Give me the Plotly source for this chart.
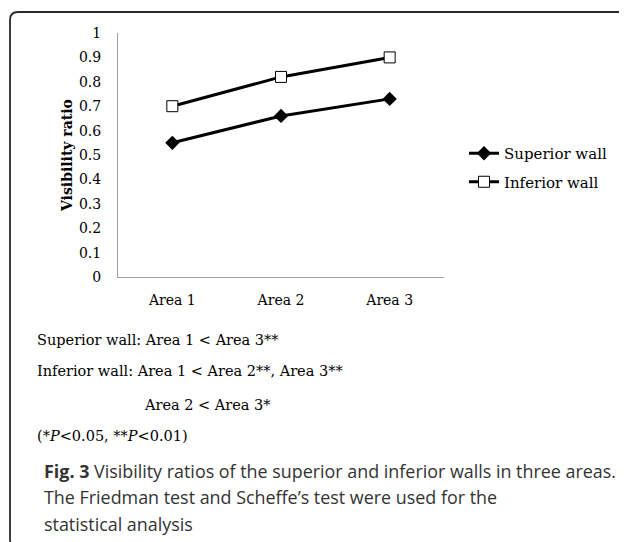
import plotly.graph_objects as go

categories = ["Area 1", "Area 2", "Area 3"]
superior_wall = [0.55, 0.66, 0.73]
inferior_wall = [0.70, 0.82, 0.90]
y_ticks = [0, 0.1, 0.2, 0.3, 0.4, 0.5, 0.6, 0.7, 0.8, 0.9, 1]
y_tick_labels = ["0", "0.1", "0.2", "0.3", "0.4", "0.5", "0.6", "0.7", "0.8", "0.9", "1"]
notes = [
    "Superior wall: Area 1 &lt; Area 3**",
    "Inferior wall: Area 1 &lt; Area 2**, Area 3**",
    "Area 2 &lt; Area 3*",
    "(*<i>P</i>&lt;0.05, **<i>P</i>&lt;0.01)",
]
caption = [
    "<b>Fig. 3</b> Visibility ratios of the superior and inferior walls in three areas.",
    "The Friedman test and Scheffe’s test were used for the",
    "statistical analysis",
]

# page body has an 8px margin; work in screen pixels and convert
OFF = 8
W, H = 627 - OFF, 542 - OFF
# plot area in screen pixels
SX0, SX1, SY0, SY1 = 118, 444, 33, 277
L, R, T, B = SX0 - OFF, W - (SX1 - OFF), SY0 - OFF, H - (SY1 - OFF)
PW, PH = SX1 - SX0, SY1 - SY0


def px(x):
    return (x - SX0) / PW


def py(y):
    return (SY1 - y) / PH


SERIF = "DejaVu Serif"

fig = go.Figure()
fig.add_trace(go.Scatter(
    x=categories, y=superior_wall, name="Superior wall", mode="lines+markers",
    line=dict(color="black", width=3),
    marker=dict(symbol="diamond", size=11, color="black"),
    legendgroup="a",
))
fig.add_trace(go.Scatter(
    x=categories, y=inferior_wall, name="Inferior wall", mode="lines+markers",
    line=dict(color="black", width=3),
    marker=dict(symbol="square", size=11, color="white", line=dict(color="black", width=1)),
    legendgroup="b",
))

fig.update_layout(
    width=W, height=H,
    margin=dict(l=L, r=R, t=T, b=B, autoexpand=False),
    paper_bgcolor="white", plot_bgcolor="white",
    font=dict(family=SERIF, size=14, color="black"),
    showlegend=True,
    legend=dict(
        x=px(464), y=py(137), xanchor="left", yanchor="top",
        font=dict(family=SERIF, size=15, color="black"),
        traceorder="grouped", tracegroupgap=6,
        bgcolor="rgba(0,0,0,0)", borderwidth=0,
    ),
    xaxis=dict(
        type="category", range=[-0.5, 2.5],
        showline=True, linecolor="#a0a0a0", linewidth=1,
        showgrid=False, zeroline=False, ticks="",
        ticklabelstandoff=10,
        tickfont=dict(family=SERIF, size=14, color="black"),
    ),
    yaxis=dict(
        range=[0, 1], tickvals=y_ticks, ticktext=y_tick_labels,
        showline=True, linecolor="#a0a0a0", linewidth=1,
        showgrid=False, zeroline=False, ticks="",
        ticklabelstandoff=13,
        tickfont=dict(family=SERIF, size=14, color="black"),
    ),
)

annotations = [
    dict(text="<b>Visibility ratio</b>", x=px(67), y=py(155), xref="paper", yref="paper",
         textangle=-90, showarrow=False, font=dict(family=SERIF, size=14, color="black"),
         xanchor="center", yanchor="middle"),
]
note_pos = [(35, 340), (35, 371), (142, 405), (35, 436)]
for t, (nx, ny) in zip(notes, note_pos):
    annotations.append(dict(text=t, x=px(nx), y=py(ny), xref="paper", yref="paper",
                            showarrow=False, xanchor="left", yanchor="middle",
                            font=dict(family=SERIF, size=14.5, color="black")))
cap_pos = [(42, 471), (42, 497), (42, 524)]
for t, (cx, cy) in zip(caption, cap_pos):
    annotations.append(dict(text=t, x=px(cx), y=py(cy), xref="paper", yref="paper",
                            showarrow=False, xanchor="left", yanchor="middle",
                            font=dict(family="Open Sans", size=17.9, color="#333333")))
fig.update_layout(annotations=annotations)

# rounded border frame (screen pixels); right and bottom edges run off the picture
x0, y0, x1, y1, r = 10, 12, 630, 547, 8
pts = [
    f"M {px(x0)},{py(y0 + r)}",
    f"Q {px(x0)},{py(y0)} {px(x0 + r)},{py(y0)}",
    f"L {px(x1 - r)},{py(y0)}",
    f"Q {px(x1)},{py(y0)} {px(x1)},{py(y0 + r)}",
    f"L {px(x1)},{py(y1 - r)}",
    f"Q {px(x1)},{py(y1)} {px(x1 - r)},{py(y1)}",
    f"L {px(x0 + r)},{py(y1)}",
    f"Q {px(x0)},{py(y1)} {px(x0)},{py(y1 - r)}",
    "Z",
]
fig.add_shape(type="path", path=" ".join(pts), xref="paper", yref="paper",
              line=dict(color="#2a2a2a", width=1.8), fillcolor="rgba(0,0,0,0)", layer="below")

fig.write_html("out.html")
